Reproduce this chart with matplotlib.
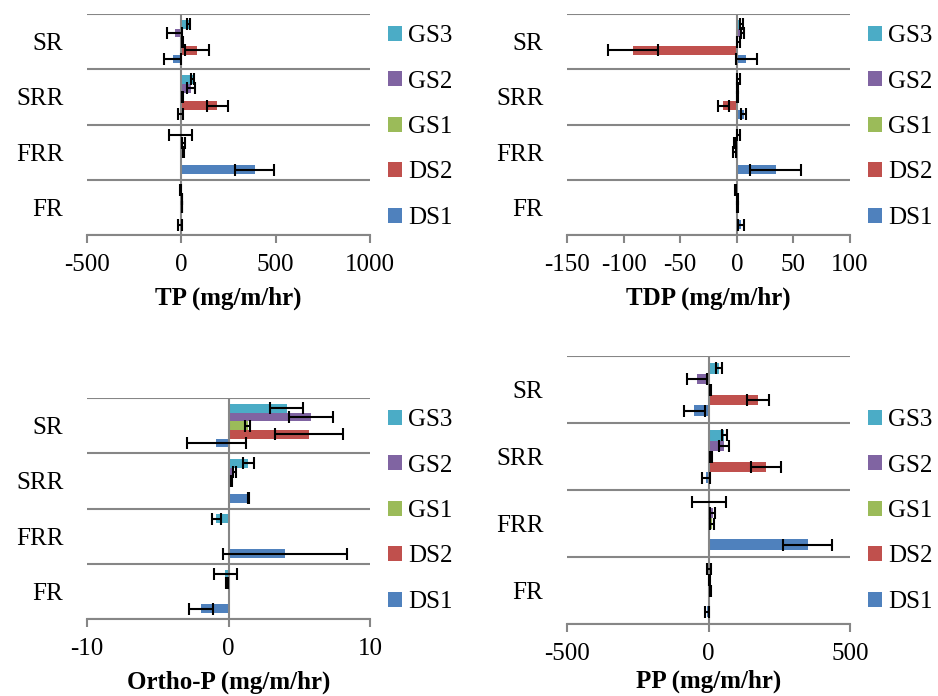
import numpy as np
import matplotlib
matplotlib.use('Agg')
import matplotlib.pyplot as plt
from matplotlib.font_manager import FontProperties

plt.rcParams['font.family'] = ['Liberation Serif', 'DejaVu Serif']
FONT = 'Liberation Serif'

categories = ['FR', 'FRR', 'SRR', 'SR']
series = ['DS1', 'DS2', 'GS1', 'GS2', 'GS3']
colors = ['#4F81BD', '#C0504D', '#9BBB59', '#8064A2', '#4BACC6']

# values per series, ordered FR, FRR, SRR, SR
tp_vals = {'DS1': [-7, 388, -4, -45], 'DS2': [0, 0, 190, 83], 'GS1': [3, 10, 8, 5],
           'GS2': [3, 10, 50, -35], 'GS3': [-4, -5, 60, 40]}
tp_err = {'DS1': [13, 104, 15, 45], 'DS2': [0, 0, 55, 62], 'GS1': [2, 3, 2, 3],
          'GS2': [2, 8, 20, 40], 'GS3': [2, 60, 8, 8]}

tdp_vals = {'DS1': [3.5, 34.5, 6, 8.5], 'DS2': [0, 0, -12, -92], 'GS1': [0.5, -2, 1, 1.5],
            'GS2': [0.5, -1.5, 1, 5], 'GS3': [-1, 1.5, 1.5, 4]}
tdp_err = {'DS1': [2.5, 22.5, 2, 9.5], 'DS2': [0, 0, 5, 22], 'GS1': [0.5, 1, 0.5, 1],
           'GS2': [0.5, 1, 0.5, 1.5], 'GS3': [0.5, 1, 1, 1.5]}

op_vals = {'DS1': [-1.92, 4.0, 1.4, -0.85], 'DS2': [0, 0, 0, 5.7], 'GS1': [0, 0, 0.2, 1.35],
           'GS2': [-0.1, 0, 0.4, 5.85], 'GS3': [-0.23, -0.85, 1.4, 4.1]}
op_err = {'DS1': [0.84, 4.4, 0.03, 2.1], 'DS2': [0, 0, 0, 2.38], 'GS1': [0, 0, 0.05, 0.15],
          'GS2': [0.05, 0, 0.1, 1.56], 'GS3': [0.82, 0.35, 0.4, 1.17]}

pp_vals = {'DS1': [-5, 350, -8, -50], 'DS2': [0, 0, 203, 175], 'GS1': [7, 12, 9, 7],
           'GS2': [5, 15, 55, -41], 'GS3': [2, 2, 56, 37]}
pp_err = {'DS1': [8, 86, 15, 38], 'DS2': [0, 0, 53, 40], 'GS1': [2, 6, 2, 2],
          'GS2': [2, 9, 19, 36], 'GS3': [7, 60, 9, 10]}

W, H = 938, 696
fig = plt.figure(figsize=(W / 100, H / 100), dpi=100)
grey = '#868686'


def panel(box, vals, errs, xlim, xticks, title, leg_xy, labelpad):
    l, r, t, b = box
    ax = fig.add_axes([l / W, 1 - b / H, (r - l) / W, (b - t) / H])
    y = np.arange(len(categories))
    h = 0.158
    for j, s in enumerate(series):
        pos = y + (j - 2) * h
        ax.barh(pos, vals[s], height=h, color=colors[j], label=s, zorder=2)
        e = np.array(errs[s])
        m = e > 0
        ax.errorbar(np.array(vals[s])[m], pos[m], xerr=e[m], fmt='none', ecolor='black',
                    elinewidth=1.5, capsize=4.5, capthick=1.5, zorder=4)
    ax.set_xlim(*xlim)
    ax.set_ylim(-0.5, len(categories) - 0.5)
    for g in np.arange(-0.5, len(categories), 1.0):
        ax.axhline(g, color=grey, lw=1.5, zorder=1)
    ax.axvline(0, color=grey, lw=1.5, zorder=3)
    for sp in ['top', 'left', 'right']:
        ax.spines[sp].set_visible(False)
    ax.spines['bottom'].set_color(grey)
    ax.spines['bottom'].set_linewidth(1.5)
    ax.set_xticks(xticks)
    ax.set_xticklabels([str(v) for v in xticks], fontfamily=FONT, fontsize=18)
    ax.tick_params(axis='x', length=6, width=1.5, color=grey, pad=8)
    ax.set_yticks(y)
    ax.set_yticklabels(categories, fontfamily=FONT, fontsize=18)
    ax.tick_params(axis='y', length=0, pad=17)
    ax.set_xlabel(title, fontsize=18, fontweight='bold', fontfamily=FONT, labelpad=labelpad)
    hs, ls = ax.get_legend_handles_labels()
    fig.legend(hs[::-1], ls[::-1], loc='upper left',
               bbox_to_anchor=(leg_xy[0] / W, 1 - leg_xy[1] / H),
               frameon=False, prop=FontProperties(family=FONT, size=18),
               handlelength=0.56, handleheight=0.56,
               handletextpad=0.25, labelspacing=0.94, borderpad=0, borderaxespad=0)
    return ax


panel((87, 370, 14, 235), tp_vals, tp_err, (-500, 1000), [-500, 0, 500, 1000],
      'TP (mg/m/hr)', (388, 25), 7)
panel((567, 850, 14, 235), tdp_vals, tdp_err, (-150, 100), [-150, -100, -50, 0, 50, 100],
      'TDP (mg/m/hr)', (868, 25), 7)
panel((87, 370, 398, 619), op_vals, op_err, (-10, 10), [-10, 0, 10],
      'Ortho-P (mg/m/hr)', (388, 409), 7)
panel((567, 850, 356, 624), pp_vals, pp_err, (-500, 500), [-500, 0, 500],
      'PP (mg/m/hr)', (868, 409), 3)

fig.savefig('out.png', dpi=100)
